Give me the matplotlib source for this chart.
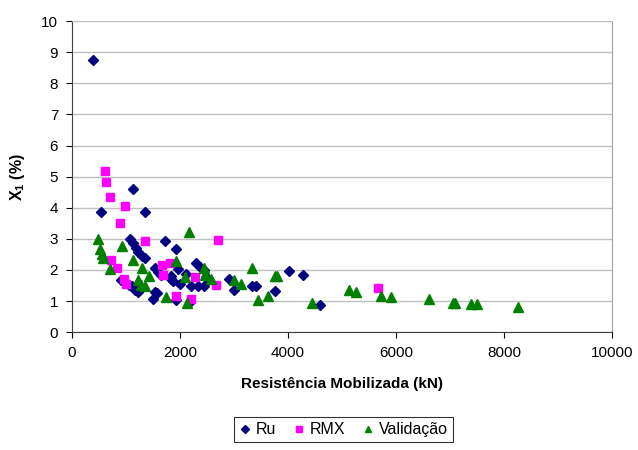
import matplotlib
matplotlib.use('Agg')
import matplotlib.pyplot as plt

plt.rcParams['font.family'] = ['Liberation Sans', 'DejaVu Sans']
plt.rcParams['mathtext.default'] = 'regular'

# data
ru_x = [387, 541, 1120, 1353, 1070, 1131, 1180, 1230, 1300, 1347, 1716, 1931, 1531, 1642,
        1839, 904, 1101, 1162, 1224, 1544, 1500, 1574, 1962, 2116, 1827, 1993, 2300, 2362,
        2485, 2196, 2330, 2441, 2915, 2995, 3327, 3407, 3758, 4022, 4280, 4588, 1931, 2189,
        1057, 2435, 1599, 1869]
ru_y = [8.75, 3.86, 4.59, 3.86, 2.99, 2.85, 2.72, 2.58, 2.45, 2.37, 2.93, 2.67, 2.05, 1.85,
        1.79, 1.67, 1.47, 1.35, 1.30, 1.30, 1.06, 1.26, 2.03, 1.88, 1.72, 1.56, 2.21, 2.10,
        1.78, 1.47, 1.47, 1.47, 1.72, 1.35, 1.49, 1.49, 1.32, 1.97, 1.83, 0.87, 1.03, 0.98,
        1.51, 1.99, 1.94, 1.65]

rmx_x = [603, 627, 701, 978, 886, 1359, 720, 824, 965, 990, 1666, 1808, 1680, 1920, 2208,
         2282, 2669, 2700, 5670]
rmx_y = [5.19, 4.84, 4.33, 4.04, 3.52, 2.93, 2.32, 2.05, 1.72, 1.56, 2.17, 2.21, 1.83, 1.16,
         1.08, 1.78, 1.52, 2.96, 1.42]

val_x = [474, 517, 545, 578, 701, 928, 1131, 1286, 1427, 1224, 1273, 1347, 1746, 2159, 1931,
         2098, 2134, 2441, 2454, 2565, 3007, 3131, 3327, 3450, 3629, 3760, 3800, 4452, 5129,
         5252, 5714, 5910, 6618, 7048, 7097, 7392, 7496, 8266]
val_y = [2.99, 2.67, 2.52, 2.39, 2.02, 2.78, 2.32, 2.05, 1.82, 1.67, 1.51, 1.47, 1.14, 3.21,
         2.28, 1.78, 0.92, 2.05, 1.83, 1.72, 1.67, 1.56, 2.05, 1.04, 1.16, 1.82, 1.80, 0.94,
         1.35, 1.30, 1.16, 1.12, 1.05, 0.95, 0.95, 0.90, 0.90, 0.81]

fig = plt.figure(figsize=(6.38, 4.5), dpi=100)
ax = fig.add_axes([0.113, 0.262, 0.846, 0.691])

ax.plot(ru_x, ru_y, 'D', color='#000080', markersize=5.2, label='Ru', zorder=3)
ax.plot(rmx_x, rmx_y, 's', color='#FF00FF', markersize=5.8, label='RMX', zorder=3)
ax.plot(val_x, val_y, '^', color='#008000', markersize=7, label='Validação', zorder=3)

ax.set_xlim(0, 10000)
ax.set_ylim(0, 10)
ax.set_xticks(range(0, 10001, 2000))
ax.set_yticks(range(0, 11))
ax.grid(axis='y', color='#c0c0c0', linewidth=1)
ax.set_axisbelow(True)
ax.tick_params(direction='out', length=4, labelsize=11, colors='black', pad=6)

ax.spines['left'].set_color('#404040')
ax.spines['bottom'].set_color('#404040')
ax.spines['right'].set_color('#a0a0a0')
ax.spines['top'].set_color('#c0c0c0')

ax.set_xlabel('Resistência Mobilizada (kN)', fontsize=11, fontweight='bold', labelpad=12)
ax.set_ylabel('X$_1$ (%)', fontsize=11.5, fontweight='bold', labelpad=10)

leg = fig.legend(loc='lower center', bbox_to_anchor=(0.538, 0.0), ncol=3, frameon=True,
                 fancybox=False, edgecolor='black', fontsize=11.5, handletextpad=0.3,
                 columnspacing=1.0, borderpad=0.3, markerscale=0.7, handlelength=0.8)
leg.get_frame().set_linewidth(0.8)

fig.savefig('out.png', dpi=100)
